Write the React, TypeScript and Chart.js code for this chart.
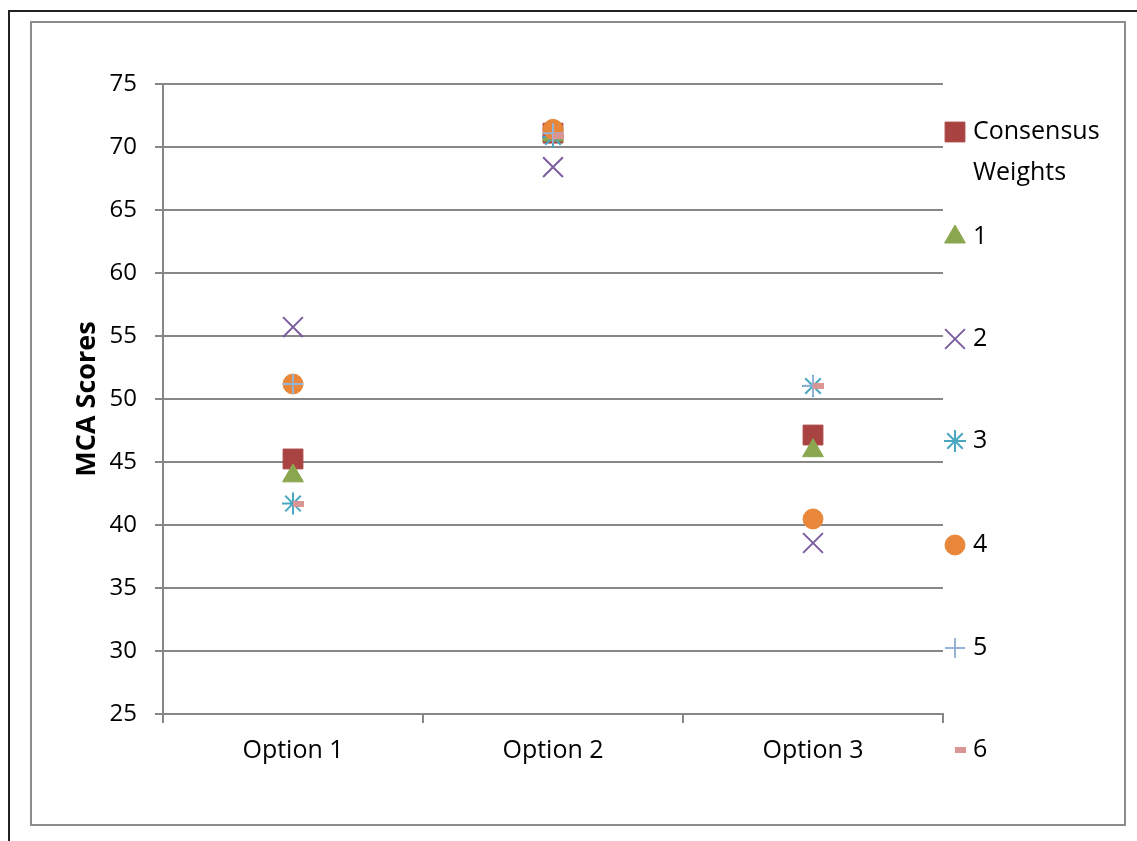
import React, { useEffect, useRef } from "react";
import { Chart, registerables } from "chart.js";
import { drawPoint } from "chart.js/helpers";

Chart.register(...registerables);

// Categories and MCA scores per weighting scheme
const categories = ["Option 1", "Option 2", "Option 3"];
const consensusWeights = [45.24, 71.1, 47.14];
const weights1 = [43.9, 70.95, 45.9];
const weights2 = [55.71, 68.4, 38.57];
const weights3 = [41.7, 70.8, 51.03];
const weights4 = [51.19, 71.4, 40.48];
const weights5 = [51.19, 71.1, 51.05];
const weights6 = [41.67, 70.9, 51.07];

const seriesNames = ["Consensus Weights", "1", "2", "3", "4", "5", "6"];
const yTicks = [25, 30, 35, 40, 45, 50, 55, 60, 65, 70, 75];

const FONT = "'Open Sans', 'DejaVu Sans', sans-serif";
const GRID = "#878787";

// Small pink dash sitting just right of the point centre
function makeDash(): HTMLCanvasElement {
  const c = document.createElement("canvas");
  c.width = 24;
  c.height = 6;
  const g = c.getContext("2d")!;
  g.fillStyle = "#D99694";
  g.fillRect(12, 0, 11, 6);
  return c;
}

export default function App() {
  const canvasRef = useRef<HTMLCanvasElement | null>(null);

  useEffect(() => {
    const dash = makeDash();
    const styles: any[] = [
      { pointStyle: "rect", radius: 14, color: "#A94341", border: "#A94341", bw: 1 },
      { pointStyle: "triangle", radius: 12, color: "#8AA64E", border: "#8AA64E", bw: 1 },
      { pointStyle: "crossRot", radius: 14, color: "transparent", border: "#7B5E9F", bw: 2 },
      { pointStyle: "star", radius: 11, color: "transparent", border: "#4AA7C1", bw: 2 },
      { pointStyle: "circle", radius: 10, color: "#E8873A", border: "#E8873A", bw: 1 },
      { pointStyle: "cross", radius: 10, color: "transparent", border: "#95B3D7", bw: 2 },
      { pointStyle: dash, radius: 10, color: "#D99694", border: "#D99694", bw: 1 },
    ];
    const series = [consensusWeights, weights1, weights2, weights3, weights4, weights5, weights6];

    const legendPlugin = {
      id: "sideLegend",
      afterDraw(chart: any) {
        const ctx = chart.ctx;
        // legend rows, in canvas coordinates (canvas origin at 31,22)
        const mx = 924;
        const tx = 942;
        const rows = [110, 215, 317, 419, 523, 626, 728];
        ctx.save();
        ctx.font = `25px ${FONT}`;
        ctx.fillStyle = "#000";
        ctx.textBaseline = "middle";
        ctx.textAlign = "left";
        rows.forEach((y, i) => {
          const s = styles[i];
          ctx.fillStyle = s.color;
          ctx.strokeStyle = s.border;
          ctx.lineWidth = s.bw;
          drawPoint(ctx, { pointStyle: s.pointStyle, radius: s.radius, borderWidth: s.bw, rotation: 0 }, mx, y);
          ctx.fillStyle = "#000";
          if (i === 0) {
            ctx.fillText("Consensus", tx, y);
            ctx.fillText("Weights", tx, y + 41);
          } else {
            ctx.fillText(seriesNames[i], tx, y);
          }
        });
        // vertical axis title
        ctx.translate(56, 377);
        ctx.rotate(-Math.PI / 2);
        ctx.textAlign = "center";
        ctx.font = `bold 27px ${FONT}`;
        ctx.fillText("MCA Scores", 0, 0);
        ctx.restore();
      },
    };

    const chart = new Chart(canvasRef.current!, {
      type: "line",
      data: {
        labels: categories,
        datasets: series.map((d, i) => ({
          label: seriesNames[i],
          data: d,
          showLine: false,
          order: -i,
          pointStyle: styles[i].pointStyle,
          pointRadius: styles[i].radius,
          pointHoverRadius: styles[i].radius,
          pointBackgroundColor: styles[i].color,
          pointBorderColor: styles[i].border,
          pointBorderWidth: styles[i].bw,
          backgroundColor: styles[i].color,
          borderColor: styles[i].border,
        })),
      },
      options: {
        animation: false,
        responsive: false,
        maintainAspectRatio: false,
        devicePixelRatio: 1,
        layout: { padding: { top: 62, right: 184, left: 0, bottom: 0 } },
        plugins: {
          legend: { display: false },
          tooltip: { enabled: false },
        },
        scales: {
          x: {
            type: "category",
            offset: true,
            grid: {
              offset: true,
              drawOnChartArea: false,
              drawTicks: true,
              tickLength: 9,
              color: GRID,
              lineWidth: 2,
            },
            border: { color: GRID, width: 2 },
            ticks: { color: "#000", font: { family: FONT, size: 25 }, padding: 13 },
            afterFit(scale: any) {
              scale.height = 113;
            },
          },
          y: {
            min: 25,
            max: 75,
            afterBuildTicks(scale: any) {
              scale.ticks = yTicks.map((v) => ({ value: v }));
            },
            grid: { color: GRID, lineWidth: 2, tickLength: 8 },
            border: { color: GRID, width: 2 },
            ticks: { color: "#000", font: { family: FONT, size: 24 }, padding: 18 },
            afterFit(scale: any) {
              scale.width = 132;
            },
          },
        },
      },
      plugins: [legendPlugin],
    });
    return () => chart.destroy();
  }, []);

  return (
    <div style={{ position: "absolute", left: 0, top: 0, width: 1137, height: 841, background: "#fff", overflow: "hidden" }}>
      <div style={{ position: "absolute", left: 8, top: 10, width: 1200, height: 900, borderTop: "2px solid #222", borderLeft: "2px solid #222" }} />
      <div style={{ position: "absolute", left: 30, top: 21, width: 1096, height: 805, border: "2px solid #8c8c8c", boxSizing: "border-box" }} />
      <canvas ref={canvasRef} width={1096} height={805} style={{ position: "absolute", left: 31, top: 22, width: 1096, height: 805 }} />
    </div>
  );
}
